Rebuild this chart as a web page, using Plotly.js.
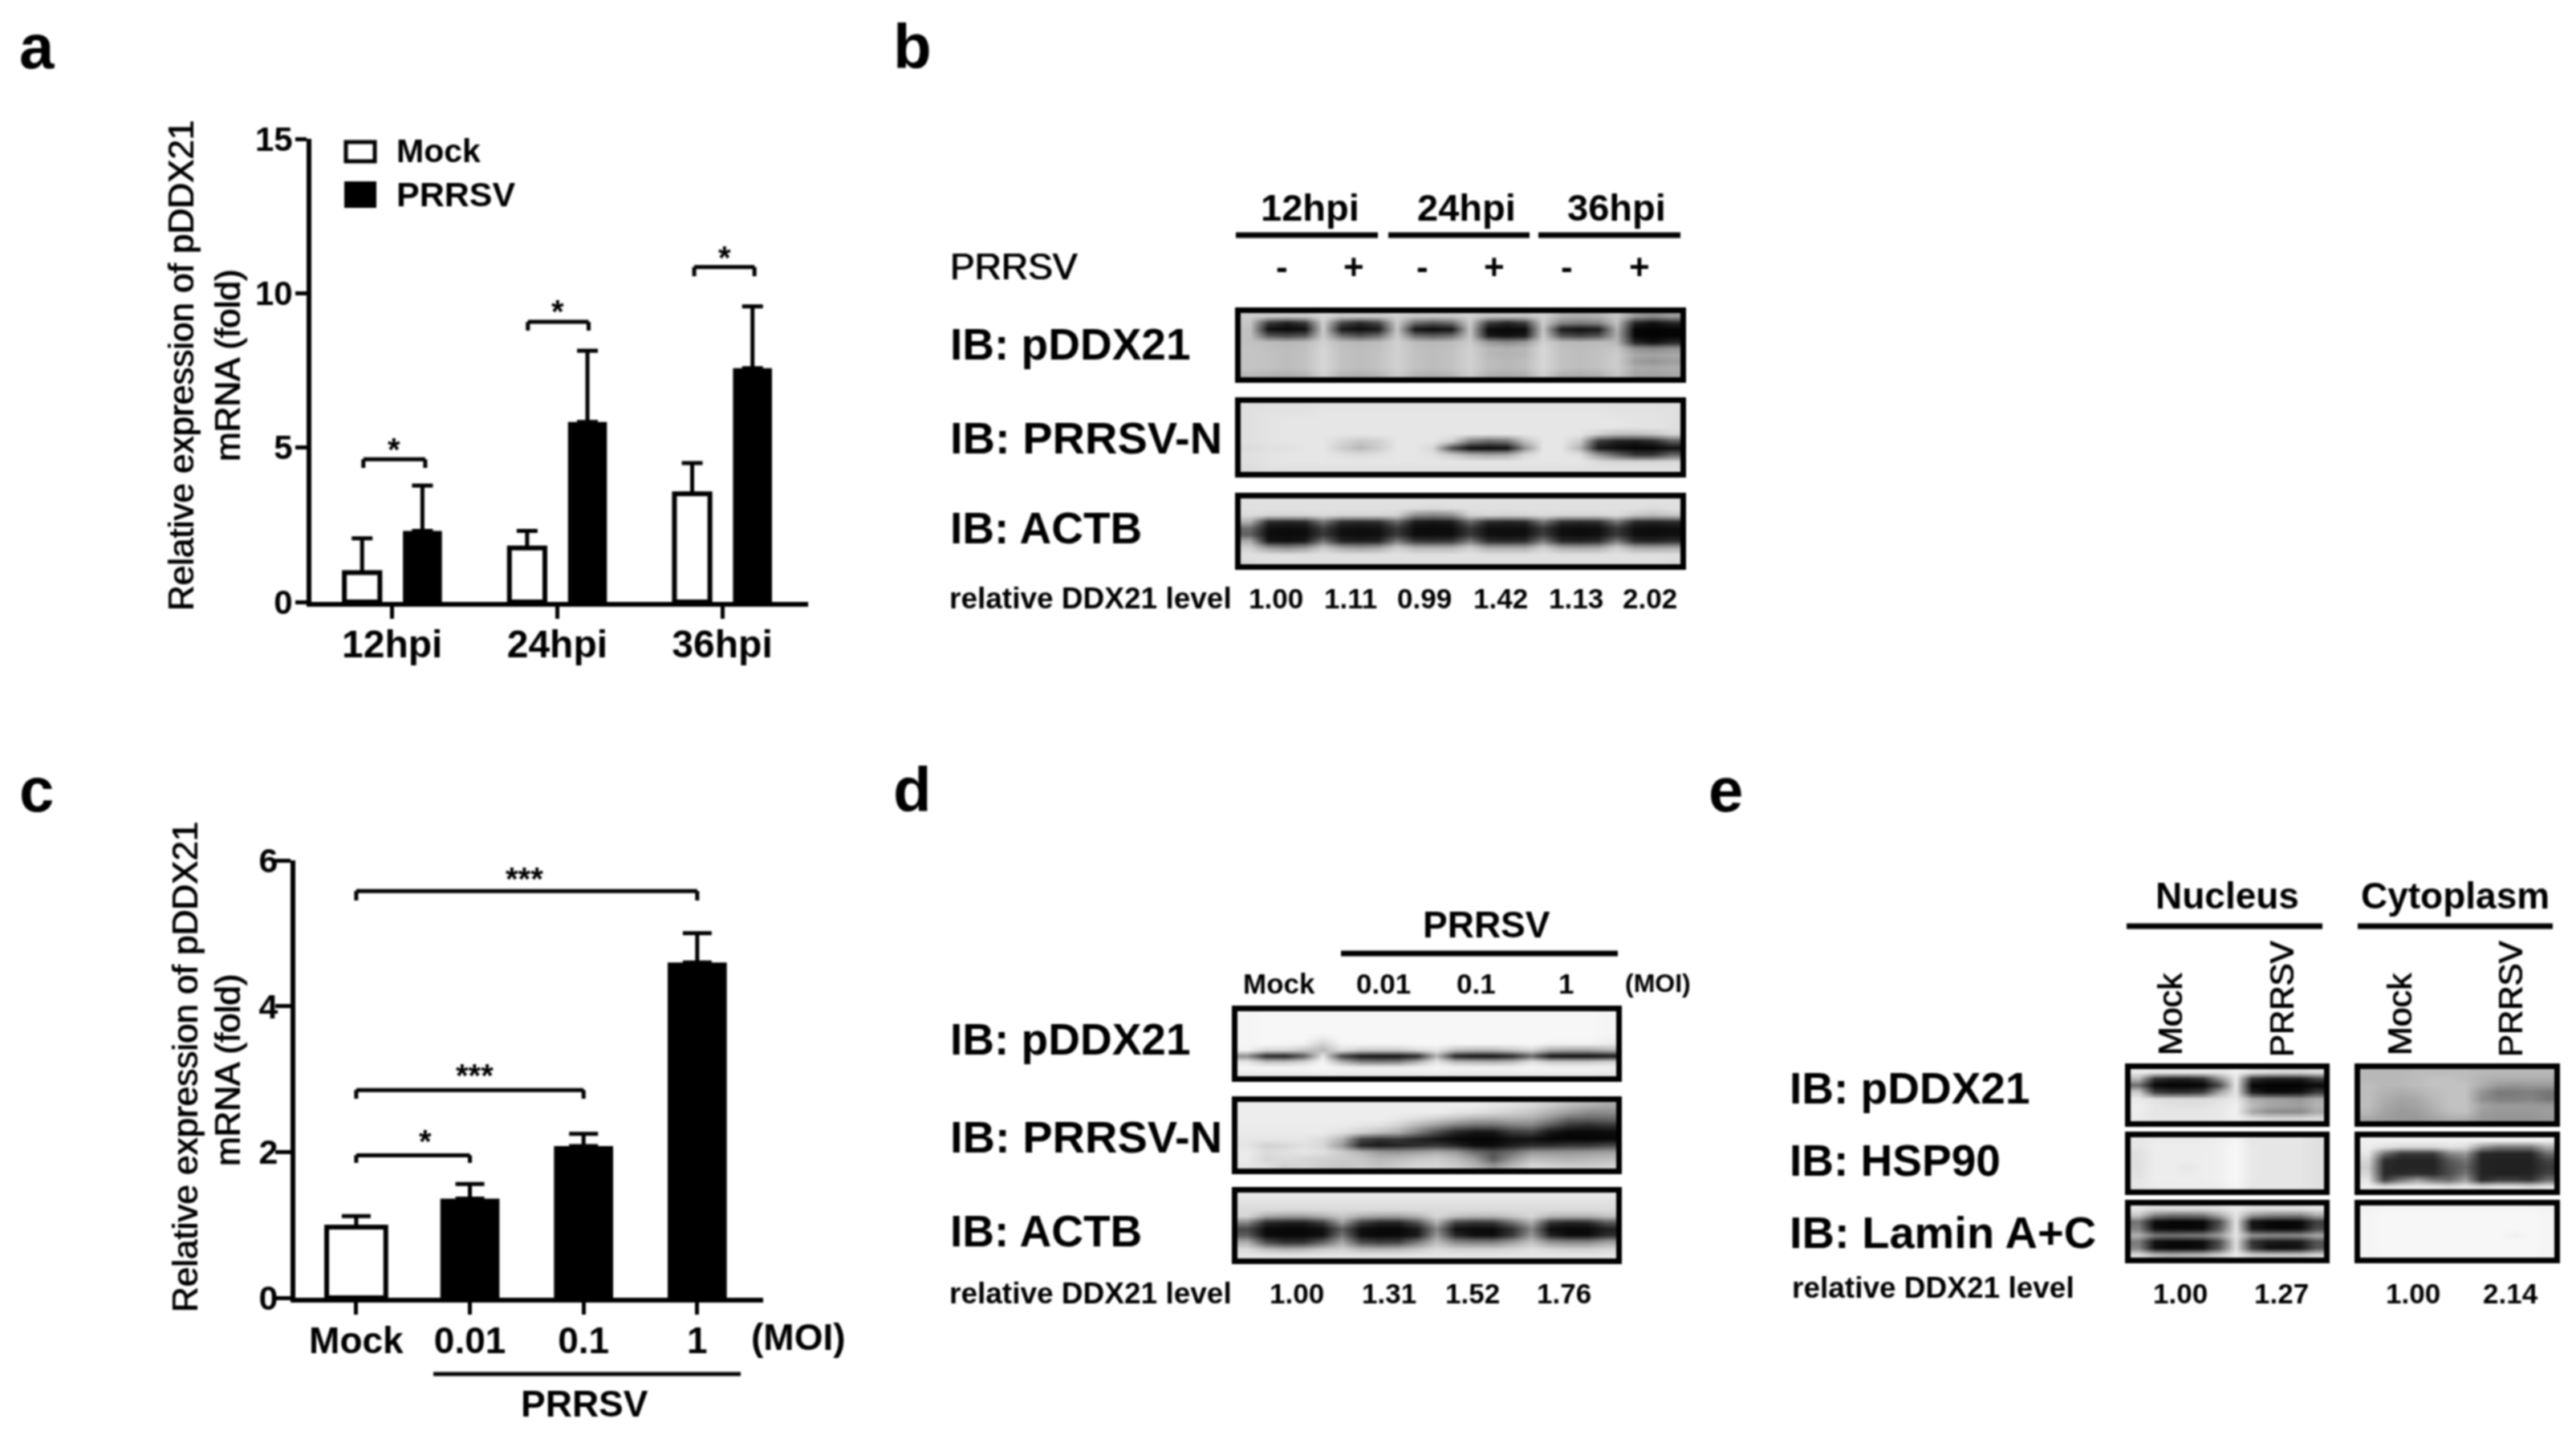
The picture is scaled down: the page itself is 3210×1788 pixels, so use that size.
<!DOCTYPE html>
<html>
<head>
<meta charset="utf-8">
<script src="https://cdn.plot.ly/plotly-3.0.1.min.js"></script>
<style>
  html, body { margin: 0; padding: 0; background: #fff; }
  #fig { width: 3210px; height: 1788px; filter: blur(0.9px); }
</style>
</head>
<body>
<div id="fig"></div>
<script>
var W = 3210, H = 1788;

// panel a
var hpiLabels = ['12hpi', '24hpi', '36hpi'];
var mockA = [0.95, 1.75, 3.5];
var mockAErr = [1.11, 0.55, 1.0];
var prrsvA = [2.3, 5.83, 7.57];
var prrsvAErr = [1.47, 2.31, 2.0];
var yTicksA = [0, 5, 10, 15];

// panel c
var moiLabels = ['Mock', '0.01', '0.1', '1'];
var moiValues = [0.97, 1.36, 2.08, 4.6];
var moiErr = [0.15, 0.2, 0.17, 0.4];
var yTicksC = [0, 2, 4, 6];

// relative levels printed under the blots
var levelsB = ['1.00', '1.11', '0.99', '1.42', '1.13', '2.02'];
var levelsD = ['1.00', '1.31', '1.52', '1.76'];
var levelsE = ['1.00', '1.27', '1.00', '2.14'];

// blots, grey level (0 black, 100 white)
var blotB1 = [
 [80,78,78,78,84,78,78,78,82,78,78,78,82,76,76,76,82,70,68,70,78,60,54,60],
 [78,22,12,22,82,28,16,28,80,42,34,42,80,24,14,24,80,52,48,52,76,14,6,14],
 [76,6,3,6,80,10,5,10,78,8,4,8,78,4,3,4,78,10,6,10,70,2,1,2],
 [76,34,28,34,80,42,32,42,80,42,36,42,78,10,6,10,80,32,26,32,68,2,1,2],
 [76,74,72,74,82,74,72,74,82,74,72,74,80,60,54,60,82,74,72,74,72,14,6,14],
 [77,75,74,75,84,75,74,75,82,75,74,75,82,72,70,72,84,75,74,75,78,58,54,58],
 [77,76,74,76,84,76,74,76,82,76,74,76,82,72,70,72,84,76,74,76,80,66,64,66],
 [77,76,74,76,84,76,74,76,82,76,74,76,82,74,72,74,84,76,74,76,80,62,58,62],
 [77,76,74,76,84,76,74,76,82,76,74,76,82,74,72,74,84,76,74,76,80,68,66,68],
 [73,71,69,71,82,71,69,71,80,71,69,71,80,69,67,69,82,69,67,69,78,65,63,65]
];
var blotB2 = [
 [88,88,88,88,89,89,89,89,89,89,89,89,89,89,89,89,89,89,89,89,88,88,88,88],
 [88,89,89,89,90,90,90,90,90,90,90,90,90,90,90,90,90,90,90,90,89,89,89,88],
 [88,89,90,90,90,90,90,90,90,90,90,90,90,90,90,90,90,90,90,90,90,89,89,88],
 [88,89,90,90,90,90,90,90,90,90,90,90,90,90,90,90,90,90,90,90,90,89,89,88],
 [88,89,90,90,90,90,90,90,90,90,90,90,90,90,90,90,90,90,90,82,75,75,78,84],
 [88,89,90,90,90,84,78,82,90,90,90,82,50,40,45,75,90,90,80,22,12,10,15,35],
 [86,88,88,90,90,80,72,80,90,90,84,30,4,3,5,55,90,90,70,10,4,2,2,6],
 [88,89,90,90,90,88,86,88,90,90,88,80,70,66,68,85,90,90,88,60,40,22,22,40],
 [88,89,90,90,90,90,90,90,90,90,90,90,90,90,90,90,90,90,90,86,84,84,84,85],
 [86,88,88,88,88,88,88,88,88,88,88,88,88,88,88,88,88,88,88,88,88,88,88,88]
];
var blotB3 = [
 [88,88,88,88,88,88,88,88,88,88,88,88,88,88,88,88,88,88,88,88,88,88,88,88],
 [88,88,88,88,88,88,88,88,88,87,86,87,88,88,88,88,88,88,88,88,88,88,86,88],
 [86,84,84,84,86,84,84,84,82,56,52,56,82,84,83,84,86,84,84,84,86,78,74,78],
 [68,16,14,16,45,18,16,18,40,10,8,10,40,16,14,16,45,18,16,18,45,16,14,16],
 [42,6,5,6,24,7,6,7,22,5,4,5,22,6,6,6,22,6,5,6,22,6,5,6],
 [38,5,4,5,22,6,5,6,22,5,5,5,22,6,5,6,24,6,5,6,22,6,5,6],
 [68,8,6,10,45,14,12,14,48,22,20,22,48,18,16,18,48,16,14,18,48,16,14,18],
 [82,62,56,62,80,66,62,66,82,72,72,72,82,68,68,68,82,68,66,68,82,68,66,68],
 [88,88,88,88,88,88,88,88,88,88,88,88,88,88,88,88,88,88,88,88,88,88,88,88],
 [86,88,88,88,88,88,88,88,88,88,88,88,88,88,88,88,88,88,88,88,88,88,88,86]
];
var blotD1 = [
 [96,97,97,97,97,97,97,97,97,97,97,97,97,97,97,97,97,97,97,96],
 [96,97,97,97,97,97,97,97,97,97,97,97,97,97,97,97,97,97,97,96],
 [96,97,97,97,97,97,97,97,97,97,97,97,97,97,97,97,97,97,97,96],
 [96,97,97,97,97,97,97,97,97,97,97,97,97,97,97,97,97,97,97,96],
 [96,97,97,97,92,97,97,97,97,97,97,97,97,97,97,97,97,97,97,95],
 [96,97,96,94,82,95,96,96,96,97,97,96,96,96,96,97,94,94,94,92],
 [95,85,85,78,72,88,80,80,80,86,90,75,72,72,78,84,68,65,65,70],
 [55,15,12,35,90,25,8,6,6,15,70,12,6,6,14,40,6,4,4,8],
 [90,75,75,82,96,68,50,48,50,68,90,72,70,68,72,88,78,78,78,82],
 [96,96,96,96,97,95,94,94,94,95,96,95,95,95,95,96,95,95,95,94],
 [92,92,92,92,93,92,92,92,92,92,93,92,92,92,92,92,92,92,92,90]
];
var blotD2 = [
 [93,93,93,93,93,93,93,93,93,93,93,93,93,90,88,85,80,74,70,66],
 [93,93,93,93,93,93,93,93,93,93,93,90,88,85,82,78,70,62,55,55],
 [93,93,93,93,93,93,93,93,90,86,80,74,68,66,68,66,55,40,38,40],
 [92,92,92,92,92,92,90,88,82,70,60,48,42,42,48,50,34,20,16,20],
 [92,92,92,92,92,88,82,75,68,50,30,14,8,8,22,25,8,3,3,4],
 [90,90,90,90,86,70,28,20,22,14,8,3,2,2,6,6,2,2,2,3],
 [90,82,84,88,84,60,15,10,14,18,22,15,5,5,12,18,18,22,22,28],
 [92,86,88,90,88,80,70,60,58,62,66,60,42,32,42,58,58,58,60,62],
 [92,84,86,84,82,80,78,72,74,78,80,74,62,35,58,74,72,70,72,74],
 [90,88,82,84,80,78,80,76,80,84,84,80,72,58,72,84,82,80,80,82]
];
var blotD3 = [
 [90,90,90,90,90,90,90,90,90,90,90,90,90,90,90,90,90,90,90,90],
 [88,88,88,88,88,88,88,88,88,88,88,88,88,88,88,88,88,88,88,88],
 [86,86,86,86,86,86,86,86,86,86,86,86,86,86,86,86,86,86,86,86],
 [84,66,62,62,68,78,68,64,64,70,84,76,72,72,78,84,72,70,70,76],
 [52,16,12,12,24,62,24,14,14,32,70,26,20,22,44,68,20,14,16,34],
 [28,4,3,3,6,36,6,3,3,10,52,6,4,4,18,52,5,3,3,12],
 [36,4,3,3,6,46,5,3,3,10,60,16,6,5,22,60,14,5,5,18],
 [68,30,18,20,38,66,30,24,26,48,74,54,50,50,62,76,58,54,54,64],
 [86,74,68,70,78,82,72,70,72,78,86,82,82,82,84,88,84,82,82,84],
 [90,90,90,90,90,90,90,90,90,90,90,90,90,90,90,90,90,90,90,90]
];
var blotEL1 = [
 [92,90,90,90,90,90,94,88,86,84,84,86],
 [72,18,12,12,18,56,92,18,10,10,10,24],
 [42,2,1,1,2,28,92,2,1,1,1,3],
 [80,24,18,18,24,64,90,12,4,4,6,22],
 [92,88,86,86,86,88,92,68,64,62,60,68],
 [93,90,88,88,88,90,94,74,66,64,62,70],
 [93,90,90,90,90,91,94,66,56,54,54,66],
 [92,90,90,90,90,91,94,88,84,84,84,86]
];
var blotER1 = [
 [72,72,72,74,74,74,74,72,72,72,72,72],
 [72,72,72,74,76,76,74,70,68,68,68,68],
 [74,72,72,74,76,76,76,68,60,58,60,60],
 [74,70,68,70,74,76,76,58,48,48,50,46],
 [74,68,64,66,72,76,76,56,50,50,52,46],
 [74,66,62,64,70,76,76,64,60,60,60,60],
 [72,64,60,62,68,74,76,62,60,60,60,62],
 [66,62,60,60,64,68,68,60,58,58,58,60]
];
var blotEL2 = [
 [90,92,92,92,92,93,96,90,90,90,90,88],
 [90,93,93,93,93,94,97,91,90,90,90,88],
 [88,93,93,93,93,94,97,91,90,90,90,88],
 [88,93,93,93,93,94,97,91,90,90,90,88],
 [88,93,93,90,93,94,97,91,90,90,90,88],
 [88,93,93,92,93,94,97,91,90,90,90,88],
 [90,93,93,93,93,94,97,91,90,90,90,88],
 [90,92,92,92,92,93,96,90,90,90,90,88]
];
var blotER2 = [
 [94,94,94,94,94,94,94,94,94,94,94,94],
 [93,88,84,84,84,88,86,58,46,46,46,68],
 [90,44,22,22,22,52,60,16,14,14,14,42],
 [84,18,14,14,14,34,46,14,13,13,13,26],
 [80,16,14,14,14,30,40,14,13,13,13,22],
 [84,16,16,18,16,30,46,14,13,13,14,26],
 [90,24,46,62,46,42,62,16,24,24,20,42],
 [94,88,92,93,92,88,92,86,90,90,86,90]
];
var blotEL3 = [
 [90,86,86,86,86,88,92,88,88,88,88,90],
 [78,50,44,44,46,66,90,60,52,50,50,66],
 [45,4,2,2,3,30,90,8,3,2,3,24],
 [50,5,3,3,4,35,90,10,4,3,4,28],
 [70,48,46,48,50,62,90,58,55,55,56,66],
 [48,6,3,3,5,30,88,20,10,8,10,32],
 [52,6,3,3,6,34,88,24,6,5,8,34],
 [86,72,68,70,72,80,92,80,78,78,78,84]
];
var blotER3 = [
 [95,96,96,96,96,96,96,96,96,96,96,95],
 [96,97,97,97,97,97,97,97,97,97,97,96],
 [96,97,97,97,97,97,97,97,97,97,97,96],
 [96,97,97,97,97,97,97,97,97,97,97,96],
 [96,97,97,97,97,97,97,97,97,94,97,96],
 [96,97,97,97,97,97,97,97,97,97,97,96],
 [96,97,97,97,97,97,97,97,97,97,97,96],
 [96,97,97,97,97,97,97,97,97,97,97,96]
];

var FONT = 'Liberation Sans, Arial, sans-serif';
var SOFT = '0.6px 0 0 #000, -0.6px 0 0 #000';  // source text sits between regular and bold

function fx(px) { return px / W; }
function fy(px) { return 1 - px / H; }

var traces = [], shapes = [], notes = [];
var layout = {
  width: W, height: H, autosize: false,
  margin: { l: 0, r: 0, t: 0, b: 0 },
  paper_bgcolor: '#fff', plot_bgcolor: 'rgba(0,0,0,0)',
  showlegend: false,
  barmode: 'overlay',
  font: { family: FONT, color: '#000' }
};

function bold(t) { return '<b>' + t + '</b>'; }

// text placed in page pixels
function label(text, x, y, size, opt) {
  opt = opt || {};
  notes.push({
    xref: 'paper', yref: 'paper', x: fx(x), y: fy(y),
    text: opt.plain ? text : bold(text),
    showarrow: false,
    xanchor: opt.anchor || 'center', yanchor: 'middle',
    textangle: opt.angle || 0,
    borderpad: 0,
    font: { family: FONT, size: size, color: '#000', shadow: opt.plain ? SOFT : 'none' }
  });
}

function rule(x0, x1, y, lw) {
  shapes.push({ type: 'line', xref: 'paper', yref: 'paper', x0: fx(x0), x1: fx(x1), y0: fy(y), y1: fy(y),
    line: { color: '#000', width: lw || 7 } });
}

// significance bracket, in data units of the axis pair
function bracket(xa, ya, x0, x1, yTop, yEnd) {
  var segs = [[x0, yEnd, x0, yTop], [x0, yTop, x1, yTop], [x1, yTop, x1, yEnd]];
  segs.forEach(function (s) {
    shapes.push({ type: 'line', xref: xa, yref: ya, x0: s[0], y0: s[1], x1: s[2], y1: s[3],
      line: { color: '#000', width: 5 } });
  });
}

function stars(xa, ya, x, y, text) {
  notes.push({ xref: xa, yref: ya, x: x, y: y, text: bold(text), showarrow: false,
    xanchor: 'center', yanchor: 'middle',
    font: { family: FONT, size: 40, color: '#000' } });
}

function barAxes(id, box, range, ticks, cats, xStandoff, yLen, yStandoff) {
  layout['xaxis' + id] = {
    domain: [fx(box.l), fx(box.r)], anchor: 'y' + id, type: 'category',
    range: range, categoryorder: 'array', categoryarray: cats,
    showline: true, linecolor: '#000', linewidth: 6, showgrid: false, zeroline: false,
    ticks: 'outside', ticklen: 15, tickwidth: 5, tickcolor: '#000',
    ticklabelstandoff: xStandoff,
    tickfont: { family: FONT, size: box.xSize, color: '#000', weight: 'bold' }
  };
  layout['yaxis' + id] = {
    domain: [fy(box.b), fy(box.t)], anchor: 'x' + id, range: [0, ticks[ticks.length - 1]],
    tickmode: 'array', tickvals: ticks,
    showline: true, linecolor: '#000', linewidth: 6, showgrid: false, zeroline: false,
    ticks: 'outside', ticklen: yLen, tickwidth: 5, tickcolor: '#000',
    ticklabelstandoff: yStandoff,
    tickfont: { family: FONT, size: box.ySize, color: '#000', weight: 'bold' }
  };
}

function errBars(err, thick, cap) {
  return { type: 'data', symmetric: false, array: err, arrayminus: err.map(function () { return 0; }),
    color: '#000', thickness: thick, width: cap };
}

// ---- panel a
barAxes(1, { l: 388, r: 1007, t: 173, b: 750, xSize: 48, ySize: 42 }, [-0.49, 2.52], yTicksA, hpiLabels, -10, 14, -5);
traces.push({ type: 'bar', x: hpiLabels, y: mockA, xaxis: 'x1', yaxis: 'y1', width: 0.215, offset: -0.29,
  marker: { color: '#fff', line: { color: '#000', width: 6 } }, error_y: errBars(mockAErr, 5, 13) });
traces.push({ type: 'bar', x: hpiLabels, y: prrsvA, xaxis: 'x1', yaxis: 'y1', width: 0.236, offset: 0.065,
  marker: { color: '#000', line: { width: 0 } }, error_y: errBars(prrsvAErr, 5, 13) });
bracket('x1', 'y1', -0.175, 0.2, 4.62, 4.34);
bracket('x1', 'y1', 0.822, 1.19, 9.07, 8.79);
bracket('x1', 'y1', 1.83, 2.195, 10.85, 10.55);
stars('x1', 'y1', 0.012, 4.95, '*');
stars('x1', 'y1', 1.005, 9.4, '*');
stars('x1', 'y1', 2.015, 11.15, '*');
shapes.push({ type: 'rect', xref: 'paper', yref: 'paper', x0: fx(431), x1: fx(467), y0: fy(177), y1: fy(201),
  fillcolor: '#fff', line: { color: '#000', width: 5 } });
shapes.push({ type: 'rect', xref: 'paper', yref: 'paper', x0: fx(429), x1: fx(469), y0: fy(226), y1: fy(259),
  fillcolor: '#000', line: { width: 0 } });
label('Mock', 493, 188, 41, { anchor: 'left' });
label('PRRSV', 493, 242, 43, { anchor: 'left' });
label('Relative expression of pDDX21', 225, 455, 44, { angle: -90, plain: true });
label('mRNA (fold)', 283, 455, 44, { angle: -90, plain: true });

// ---- panel c
barAxes(2, { l: 368, r: 951, t: 1072, b: 1617, xSize: 46, ySize: 43 }, [-0.536, 3.58], yTicksC, moiLabels, -7, 19, -12);
traces.push({ type: 'bar', x: moiLabels, y: moiValues, xaxis: 'x2', yaxis: 'y2', width: 0.52,
  marker: { color: ['#fff', '#000', '#000', '#000'], line: { color: '#000', width: [6, 0, 0, 0] } },
  error_y: errBars(moiErr, 5, 18) });
bracket('x2', 'y2', 0, 3, 5.58, 5.45);
bracket('x2', 'y2', 0, 2, 2.85, 2.73);
bracket('x2', 'y2', 0, 1, 1.955, 1.85);
stars('x2', 'y2', 1.48, 5.75, '***');
stars('x2', 'y2', 1.04, 3.05, '***');
stars('x2', 'y2', 0.61, 2.15, '*');
label('(MOI)', 995, 1666, 46);
rule(540, 923, 1712, 5);
label('PRRSV', 728, 1749, 46);
label('Relative expression of pDDX21', 230, 1329, 44, { angle: -90, plain: true });
label('mRNA (fold)', 283, 1333, 44, { angle: -90, plain: true });

// ---- blots, one small axis pair each, the axis line is the frame
var STROKE = 7, axisId = 3;
function blot(z, l, r, t, b) {
  var id = axisId++, rows = z.length, cols = z[0].length;
  var common = { showticklabels: false, ticks: '', showgrid: false, zeroline: false,
    showline: true, mirror: true, linecolor: '#000', linewidth: STROKE };
  layout['xaxis' + id] = Object.assign({ domain: [fx(l + STROKE), fx(r - STROKE)], anchor: 'y' + id,
    range: [-0.5, cols - 0.5] }, common);
  layout['yaxis' + id] = Object.assign({ domain: [fy(b - STROKE), fy(t + STROKE)], anchor: 'x' + id,
    range: [rows - 0.5, -0.5] }, common);
  traces.push({ type: 'heatmap', z: z, xaxis: 'x' + id, yaxis: 'y' + id, zsmooth: 'best',
    zmin: 0, zmax: 100, showscale: false, hoverinfo: 'skip',
    colorscale: [[0, '#000'], [1, '#fff']] });
}

// panel b
blot(blotB1, 1539, 2101, 383, 477);
blot(blotB2, 1539, 2101, 495, 595);
blot(blotB3, 1539, 2101, 614, 710);
rule(1540, 1717, 293);
rule(1730, 1906, 293);
rule(1917, 2094, 293);
label('12hpi', 1632, 259, 47);
label('24hpi', 1827, 259, 47);
label('36hpi', 2014, 259, 47);
label('PRRSV', 1183, 332, 46, { anchor: 'left', plain: true });
['-', '+', '-', '+', '-', '+'].forEach(function (s, i) {
  label(s, [1597, 1687, 1772, 1862, 1952, 2043][i], 332, 44);
});
label('IB: pDDX21', 1183, 429, 55, { anchor: 'left' });
label('IB: PRRSV-N', 1183, 546, 56, { anchor: 'left' });
label('IB: ACTB', 1183, 658, 55, { anchor: 'left' });
label('relative DDX21 level', 1182, 745, 37, { anchor: 'left' });
levelsB.forEach(function (s, i) {
  label(s, [1590, 1683, 1775, 1870, 1964, 2056][i], 745, 35);
});

// panel d
blot(blotD1, 1535, 2021, 1253, 1348);
blot(blotD2, 1535, 2021, 1366, 1463);
blot(blotD3, 1535, 2021, 1479, 1575);
rule(1671, 2016, 1188);
label('PRRSV', 1853, 1152, 46);
['Mock', '0.01', '0.1', '1'].forEach(function (s, i) {
  label(s, [1594, 1724, 1839, 1951][i], 1225, 35);
});
label('(MOI)', 2066, 1225, 32);
label('IB: pDDX21', 1183, 1295, 55, { anchor: 'left' });
label('IB: PRRSV-N', 1183, 1416, 56, { anchor: 'left' });
label('IB: ACTB', 1183, 1534, 55, { anchor: 'left' });
label('relative DDX21 level', 1182, 1611, 37, { anchor: 'left' });
levelsD.forEach(function (s, i) {
  label(s, [1616, 1731, 1835, 1949][i], 1611, 35);
});

// panel e
blot(blotEL1, 2648, 2903, 1325, 1404);
blot(blotER1, 2934, 3190, 1325, 1404);
blot(blotEL2, 2648, 2903, 1410, 1489);
blot(blotER2, 2934, 3190, 1410, 1489);
blot(blotEL3, 2648, 2903, 1495, 1574);
blot(blotER3, 2934, 3190, 1495, 1574);
rule(2650, 2894, 1154);
rule(2938, 3181, 1154);
label('Nucleus', 2775, 1116, 46);
label('Cytoplasm', 3059, 1116, 46);
label('Mock', 2704, 1264, 43, { angle: -90, plain: true });
label('PRRSV', 2843, 1245, 42, { angle: -90, plain: true });
label('Mock', 2990, 1264, 43, { angle: -90, plain: true });
label('PRRSV', 3128, 1245, 42, { angle: -90, plain: true });
label('IB: pDDX21', 2229, 1356, 55, { anchor: 'left' });
label('IB: HSP90', 2229, 1446, 55, { anchor: 'left' });
label('IB: Lamin A+C', 2229, 1535, 56, { anchor: 'left' });
label('relative DDX21 level', 2232, 1604, 37, { anchor: 'left' });
levelsE.forEach(function (s, i) {
  label(s, [2717, 2843, 3007, 3128][i], 1611, 35);
});

// panel letters
label('a', 23, 58, 78, { anchor: 'left' });
label('b', 1112, 58, 78, { anchor: 'left' });
label('c', 23, 984, 78, { anchor: 'left' });
label('d', 1112, 984, 78, { anchor: 'left' });
label('e', 2128, 984, 78, { anchor: 'left' });

layout.shapes = shapes;
layout.annotations = notes;
Plotly.newPlot('fig', traces, layout, { staticPlot: true, displayModeBar: false });
</script>
</body>
</html>
